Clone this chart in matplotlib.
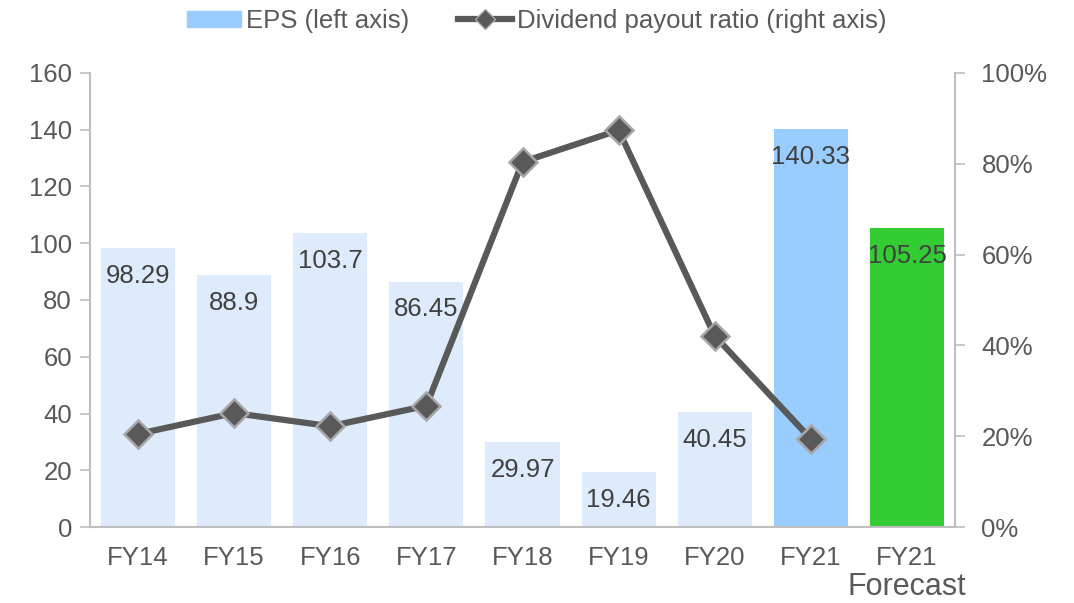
import numpy as np
import matplotlib
matplotlib.use('Agg')
import matplotlib.pyplot as plt
from matplotlib.lines import Line2D
from matplotlib.patches import Patch

plt.rcParams['font.family'] = ['Liberation Sans', 'DejaVu Sans']

# data
categories = ['FY14', 'FY15', 'FY16', 'FY17', 'FY18', 'FY19', 'FY20', 'FY21', 'FY21']
eps = [98.29, 88.9, 103.7, 86.45, 29.97, 19.46, 40.45, 140.33, 105.25]
eps_labels = ['98.29', '88.9', '103.7', '86.45', '29.97', '19.46', '40.45', '140.33', '105.25']
payout = [20.5, 25.1, 22.2, 26.7, 80.4, 87.4, 42.1, 19.4]  # percent, no value for forecast

bar_colors = ['#DDEBFD'] * 7 + ['#99CCFF', '#33CC33']
txt = '#595959'
spine = '#BFBFBF'
fs = 18.5

fig = plt.figure(figsize=(10.74, 6.03), dpi=100)
ax = fig.add_axes([0.0838, 0.126, 0.8054, 0.753])
x = np.arange(len(categories))

ax.bar(x, eps, width=0.77, color=bar_colors, zorder=1)
for xi, v, s in zip(x, eps, eps_labels):
    ax.annotate(s, (xi, v), xytext=(0, -20), textcoords='offset points',
                ha='center', va='center', fontsize=fs, color='#404040', zorder=2)

ax.set_xlim(-0.5, len(categories) - 0.5)
ax.set_ylim(0, 160)
ax.set_yticks(np.arange(0, 161, 20))
ax.set_xticks(x)
ax.set_xticklabels(categories)
ax.tick_params(axis='x', length=0, pad=14, labelsize=fs, labelcolor=txt)
ax.tick_params(axis='y', length=7, color=spine, width=1.2, pad=6, labelsize=fs, labelcolor=txt)
for side in ['top', 'right']:
    ax.spines[side].set_visible(False)
for side in ['left', 'bottom']:
    ax.spines[side].set_color(spine)
    ax.spines[side].set_linewidth(1.5)

# second line under the last tick label, a bit larger
ax.annotate('Forecast', (x[-1], 0), xytext=(0, -43), textcoords='offset points',
            ha='center', va='center', fontsize=22, color=txt, annotation_clip=False)

ax2 = ax.twinx()
ax2.plot(x[:len(payout)], payout, color='#595959', lw=4.5, marker='D', markersize=14,
         markerfacecolor='#595959', markeredgecolor='#A6A6A6', markeredgewidth=1.8, zorder=3)
ax2.set_ylim(0, 100)
ax2.set_yticks(np.arange(0, 101, 20))
ax2.set_yticklabels([f'{v}%' for v in range(0, 101, 20)])
ax2.tick_params(axis='y', length=7, color=spine, width=1.2, pad=12, labelsize=fs, labelcolor=txt)
for side in ['top', 'left', 'bottom']:
    ax2.spines[side].set_visible(False)
ax2.spines['right'].set_color(spine)
ax2.spines['right'].set_linewidth(1.5)

handles = [Patch(color='#99CCFF', label='EPS (left axis)'),
           Line2D([], [], color='#595959', lw=4.5, marker='D', markersize=10,
                  markerfacecolor='#595959', markeredgecolor='#A6A6A6',
                  label='Dividend payout ratio (right axis)')]
fig.legend(handles=handles, loc='center', bbox_to_anchor=(0.5, 0.965), ncol=2,
           frameon=False, fontsize=fs, labelcolor=txt, handlelength=2.1,
           handletextpad=0.2, columnspacing=1.9, handleheight=0.6)

fig.savefig('out.png', dpi=100)
